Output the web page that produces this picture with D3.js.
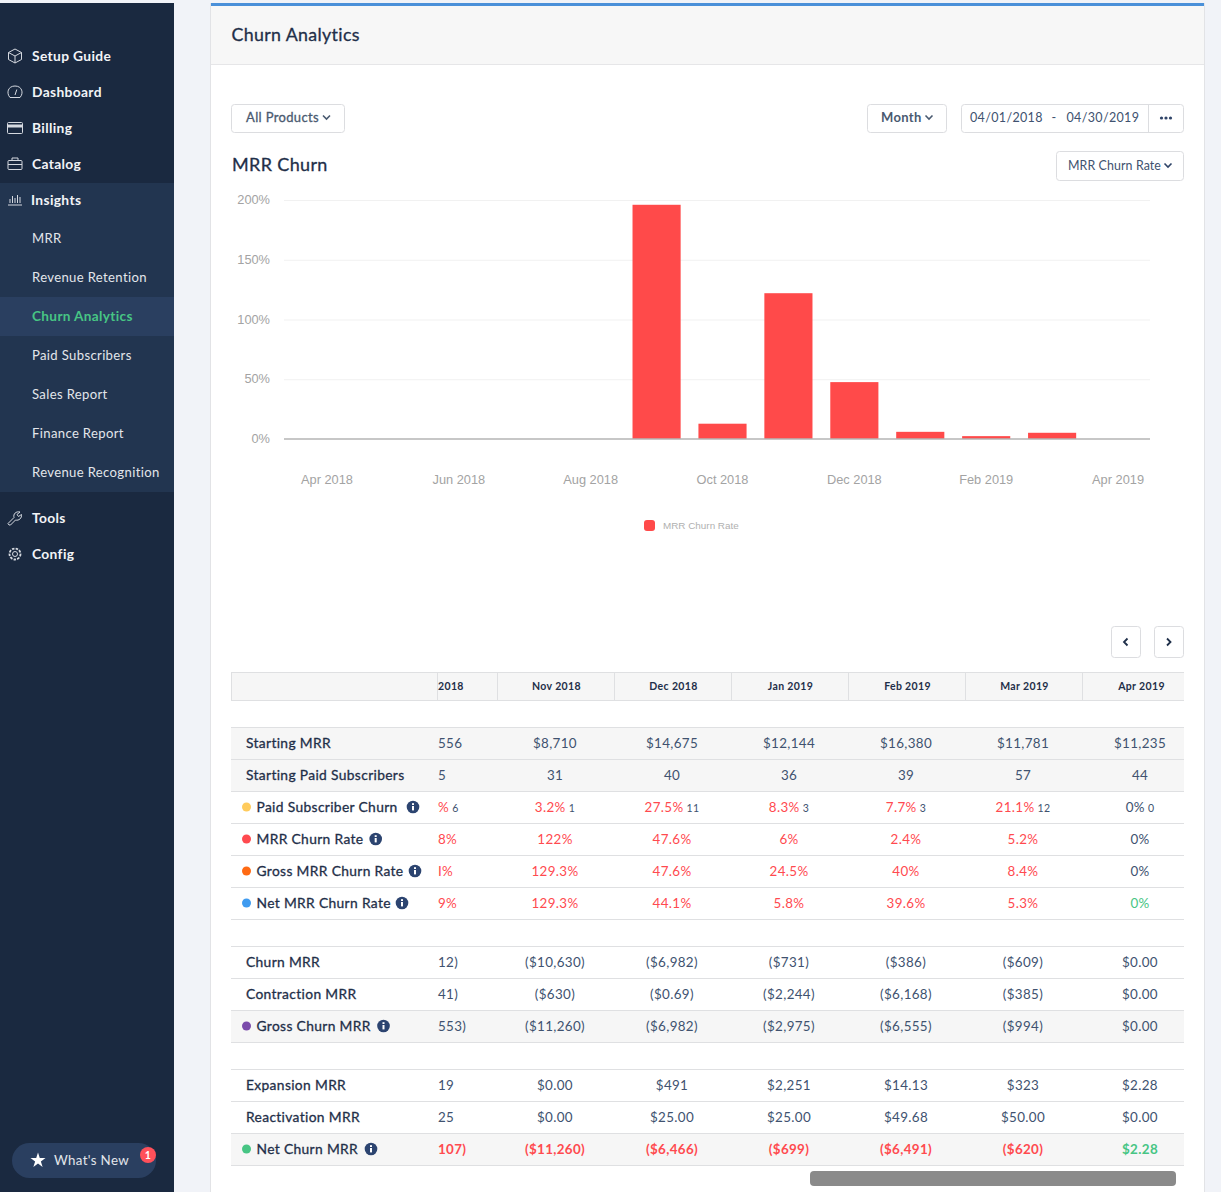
<!DOCTYPE html>
<html>
<head>
<meta charset="utf-8">
<title>Churn Analytics</title>
<script src="https://cdn.jsdelivr.net/npm/d3@7"></script>
<style>
  html, body { margin: 0; padding: 0; background: #f1f3f8; overflow: hidden; }
  svg { display: block; }
  text { font-family: Lato, "Open Sans", sans-serif; letter-spacing: 0.35px; }
  .chart-text text, text.chart-text { font-family: "Liberation Sans", Arial, sans-serif; letter-spacing: 0; }
</style>
</head>
<body>
<div id="page"></div>
<script>
// ------------------------------------------------------------
// 1. Data
// ------------------------------------------------------------
const months = ["Apr 2018", "May 2018", "Jun 2018", "Jul 2018", "Aug 2018", "Sep 2018", "Oct 2018",
  "Nov 2018", "Dec 2018", "Jan 2019", "Feb 2019", "Mar 2019", "Apr 2019"];
const mrrChurnRate = [0, 0, 0, 0, 0, 196, 12.8, 122, 47.6, 6, 2.4, 5.2, 0];
const xTickLabels = ["Apr 2018", "Jun 2018", "Aug 2018", "Oct 2018", "Dec 2018", "Feb 2019", "Apr 2019"];
const yTickValues = [0, 50, 100, 150, 200];

const sidebarTop = ["Setup Guide", "Dashboard", "Billing", "Catalog", "Insights"];
const sidebarSub = ["MRR", "Revenue Retention", "Churn Analytics", "Paid Subscribers", "Sales Report", "Finance Report", "Revenue Recognition"];
const sidebarBottom = ["Tools", "Config"];

const tableMonths = ["Nov 2018", "Dec 2018", "Jan 2019", "Feb 2019", "Mar 2019", "Apr 2019"];

const startingMrr = ["556", "$8,710", "$14,675", "$12,144", "$16,380", "$11,781", "$11,235"];
const startingSubs = ["5", "31", "40", "36", "39", "57", "44"];
const paidChurn = ["%", "3.2%", "27.5%", "8.3%", "7.7%", "21.1%", "0%"];
const paidChurnCount = ["6", "1", "11", "3", "3", "12", "0"];
const mrrRate = ["8%", "122%", "47.6%", "6%", "2.4%", "5.2%", "0%"];
const grossRate = ["I%", "129.3%", "47.6%", "24.5%", "40%", "8.4%", "0%"];
const netRate = ["9%", "129.3%", "44.1%", "5.8%", "39.6%", "5.3%", "0%"];
const churnMrr = ["12)", "($10,630)", "($6,982)", "($731)", "($386)", "($609)", "$0.00"];
const contractionMrr = ["41)", "($630)", "($0.69)", "($2,244)", "($6,168)", "($385)", "$0.00"];
const grossChurnMrr = ["553)", "($11,260)", "($6,982)", "($2,975)", "($6,555)", "($994)", "$0.00"];
const expansionMrr = ["19", "$0.00", "$491", "$2,251", "$14.13", "$323", "$2.28"];
const reactivationMrr = ["25", "$0.00", "$25.00", "$25.00", "$49.68", "$50.00", "$0.00"];
const netChurnMrr = ["107)", "($11,260)", "($6,466)", "($699)", "($6,491)", "($620)", "$2.28"];

// ------------------------------------------------------------
// 2. Page setup
// ------------------------------------------------------------
const W = 1221, H = 1192;
const navy = "#1f2f49", slate = "#40526f", red = "#ff4a4f", green = "#47c584", line = "#dfe0e2", shade = "#f6f6f6";

const svg = d3.select("#page").append("svg").attr("width", W).attr("height", H);

function rect(x, y, w, h, fill, rx) {
  return svg.append("rect").attr("x", x).attr("y", y).attr("width", w).attr("height", h)
    .attr("fill", fill).attr("rx", rx || 0);
}
function label(x, y, str, size, color, weight, anchor) {
  const t = svg.append("text").attr("x", x).attr("y", y).text(str)
    .attr("font-size", size).attr("fill", color)
    .attr("font-weight", weight === 500 ? 400 : (weight || 400)).attr("text-anchor", anchor || "start");
  // Lato has no medium here, so thicken the regular cut a little
  if (weight === 500) t.attr("stroke", color).attr("stroke-width", 0.3);
  return t;
}
function hline(x1, x2, y, color) {
  svg.append("line").attr("x1", x1).attr("x2", x2).attr("y1", y).attr("y2", y)
    .attr("stroke", color || line).attr("stroke-width", 1);
}
function chevron(cx, cy, color) {
  svg.append("path").attr("d", `M${cx - 3.5},${cy - 1.5}L${cx},${cy + 2}L${cx + 3.5},${cy - 1.5}`)
    .attr("fill", "none").attr("stroke", color).attr("stroke-width", 1.6);
}
function button(x, y, w, h) {
  svg.append("rect").attr("x", x + 0.5).attr("y", y + 0.5).attr("width", w).attr("height", h).attr("rx", 3)
    .attr("fill", "#fff").attr("stroke", "#dcdde0");
}

rect(0, 0, W, H, "#f1f3f8");

// ------------------------------------------------------------
// 3. Sidebar
// ------------------------------------------------------------
rect(0, 3, 174, H, "#1a2940");
rect(0, 183, 174, 309, "#223550");
rect(0, 297, 174, 39, "#2a3f60");

const sideIconColor = "#d5d9e0";
function sideIcon(name, cx, cy) {
  const g = svg.append("g").attr("transform", `translate(${cx},${cy})`)
    .attr("fill", "none").attr("stroke", sideIconColor).attr("stroke-width", 1);
  if (name === "Setup Guide") {
    g.append("path").attr("d", "M0,-7L6.5,-3.5V3.5L0,7L-6.5,3.5V-3.5ZM-6.5,-3.5L0,0L6.5,-3.5M0,0V7");
  } else if (name === "Dashboard") {
    g.append("path").attr("d", "M-5,5.5H5C9,1 7,-6 0,-6C-7,-6 -9,1 -5,5.5ZM0,3L1.8,-2.5");
  } else if (name === "Billing") {
    g.append("rect").attr("x", -7.5).attr("y", -5.5).attr("width", 15).attr("height", 11).attr("rx", 1);
    g.append("rect").attr("x", -7.5).attr("y", -3).attr("width", 15).attr("height", 2).attr("fill", sideIconColor);
  } else if (name === "Catalog") {
    g.append("rect").attr("x", -7).attr("y", -3.5).attr("width", 14).attr("height", 9).attr("rx", 1);
    g.append("path").attr("d", "M-3,-3.5V-6H3V-3.5M-7,0.5H7");
  } else if (name === "Insights") {
    g.append("path").attr("d", "M-7,5H7M-5,3V-1M-2.5,3V-4M0,3V-2M2.5,3V-5M5,3V-3");
  } else if (name === "Tools") {
    g.append("path").attr("d", "M-6,7L-7,5.5L-1,-0.5C-2,-4 1,-7 5,-6L2,-3.5L3.5,-1.5L6.5,-3.5C7,0 4,3 0.5,2L-4.5,7Z");
  } else if (name === "Config") {
    g.append("circle").attr("r", 2.5);
    g.append("circle").attr("r", 5.5).attr("stroke-width", 1.8).attr("stroke-dasharray", "2.5 1.2");
  }
}

const sideTopY = [56, 92, 128, 164, 200];
sidebarTop.forEach((d, i) => {
  sideIcon(d, 15, sideTopY[i]);
  label(d === "Insights" ? 31 : 32, sideTopY[i] + 5, d, 13.8, "#f2f4f7", 700);
});
sidebarSub.forEach((d, i) => {
  const active = d === "Churn Analytics";
  label(32, 243 + i * 39, d, active ? 13.6 : 13.1, active ? green : "#e3e6eb", active ? 700 : 400);
});
sidebarBottom.forEach((d, i) => {
  sideIcon(d, 15, 518 + i * 36);
  label(32, 523 + i * 36, d, 13.8, "#f2f4f7", 700);
});

rect(12, 1143, 144, 35, "#2a3f60", 17.5);
svg.append("path").attr("d", d3.symbol(d3.symbolStar, 70)()).attr("transform", "translate(38,1160.5)").attr("fill", "#fff");
label(54, 1165, "What's New", 13.3, "#e3e6eb");
svg.append("circle").attr("cx", 148).attr("cy", 1155).attr("r", 8).attr("fill", "#ff505a");
label(148, 1159, "1", 10.5, "#fff", 700, "middle");

// ------------------------------------------------------------
// 4. Panel and controls
// ------------------------------------------------------------
svg.append("rect").attr("x", 210.5).attr("y", 3.5).attr("width", 994).attr("height", H).attr("fill", "#fff").attr("stroke", "#e2e3e6");
rect(211, 5, 993, 59, "#f7f7f7");
rect(211, 3, 993, 3, "#4a90d9");
hline(211, 1204, 64.5, "#e6e6e8");
label(231.5, 41, "Churn Analytics", 17.8, navy, 500);

button(231, 104, 113, 28);
label(246, 122, "All Products", 13, "#4a5a70", 500);
chevron(326.5, 117, "#4a5a70");

button(867, 104, 79, 28);
label(881, 122, "Month", 13, "#4a5a70", 700);
chevron(929, 117, "#4a5a70");

button(961, 104, 222, 28);
svg.append("line").attr("x1", 1148.5).attr("x2", 1148.5).attr("y1", 104).attr("y2", 132).attr("stroke", "#dcdde0");
label(970, 122, "04/01/2018", 12.5, slate);
label(1054, 122, "-", 12.6, slate, 400, "middle");
label(1066.5, 122, "04/30/2019", 12.5, slate);
[-4.5, 0, 4.5].forEach(dx => svg.append("circle").attr("cx", 1166 + dx).attr("cy", 118).attr("r", 1.6).attr("fill", "#2f4468"));

label(232, 171, "MRR Churn", 18, navy, 500);
button(1056, 151, 127, 29);
label(1068, 170, "MRR Churn Rate", 12.4, slate).style("letter-spacing", "0.1px");
chevron(1168, 165, "#2f4468");

// ------------------------------------------------------------
// 5. Bar chart
// ------------------------------------------------------------
const x = d3.scaleBand().domain(months).range([294, 1151]).paddingInner(0.27).paddingOuter(0.135);
const y = d3.scaleLinear().domain([0, 200]).range([439, 200]);

svg.append("g").attr("class", "grid").selectAll("line")
  .data(yTickValues.filter(d => d > 0))
  .join("line")
  .attr("x1", 284).attr("x2", 1150)
  .attr("y1", d => y(d) + 0.5).attr("y2", d => y(d) + 0.5)
  .attr("stroke", "#f1f1f1");

svg.append("g").attr("class", "bars").selectAll("rect")
  .data(months.map((m, i) => ({ month: m, value: mrrChurnRate[i] })).filter(d => d.value > 0))
  .join("rect")
  .attr("x", d => x(d.month))
  .attr("width", x.bandwidth())
  .attr("y", d => y(d.value))
  .attr("height", d => y(0) - y(d.value))
  .attr("fill", "#ff4a4a");

svg.append("line").attr("x1", 284).attr("x2", 1150).attr("y1", y(0)).attr("y2", y(0))
  .attr("stroke", "#b4b4b4").attr("stroke-width", 1.4);

const yAxis = d3.axisLeft(y).tickValues(yTickValues).tickFormat(d => d + "%").tickSize(0).tickPadding(14);
const yG = svg.append("g").attr("class", "chart-text").attr("transform", "translate(284,-0.6)").call(yAxis);
yG.select(".domain").remove();
yG.selectAll("text").attr("font-size", 12.8).attr("fill", "#a3a3a3")
  .style("font-family", "'Liberation Sans', Arial, sans-serif");

const xAxis = d3.axisBottom(x).tickValues(xTickLabels).tickSize(0).tickPadding(36);
const xG = svg.append("g").attr("class", "chart-text").attr("transform", `translate(0,${y(0)})`).call(xAxis);
xG.select(".domain").remove();
xG.selectAll("text").attr("font-size", 12.8).attr("fill", "#a3a3a3")
  .style("font-family", "'Liberation Sans', Arial, sans-serif");

// legend
rect(644, 520, 11, 11, "#ff4a4a", 3);
label(663, 529, "MRR Churn Rate", 9.9, "#b0b0b0").attr("class", "chart-text");

// ------------------------------------------------------------
// 6. Table
// ------------------------------------------------------------
button(1111, 626, 29, 31);
button(1154, 626, 29, 31);
svg.append("path").attr("d", "M1127.5,638.5L1124,642L1127.5,645.5").attr("fill", "none").attr("stroke", navy).attr("stroke-width", 1.8);
svg.append("path").attr("d", "M1167,638.5L1170.5,642L1167,645.5").attr("fill", "none").attr("stroke", navy).attr("stroke-width", 1.8);

const colCenters = [555, 672, 789, 906, 1023, 1140];

// header strip
rect(231, 672, 953, 29, shade);
hline(231, 1184, 672.5);
hline(231, 1184, 700.5);
[231.5, 437.5, 497.5, 614.5, 731.5, 848.5, 965.5, 1082.5].forEach(px => {
  svg.append("line").attr("x1", px).attr("x2", px).attr("y1", 672).attr("y2", 701).attr("stroke", line);
});
label(438, 690, "2018", 10.5, navy, 700);
tableMonths.forEach((m, i) => label(colCenters[i] + 1.5, 690, m, 10.5, navy, 700, "middle"));

const infoColor = "#2c4470";
function infoIcon(cx, cy) {
  svg.append("circle").attr("cx", cx).attr("cy", cy).attr("r", 6.3).attr("fill", infoColor);
  rect(cx - 1, cy - 1, 2, 4.4, "#fff");
  rect(cx - 1, cy - 3.8, 2, 1.8, "#fff");
}

function tableRow(yTop, name, values, opts) {
  opts = opts || {};
  const h = 32;
  if (opts.shaded) rect(231, yTop + 1, 953, h - 1, shade);
  hline(231, 1184, yTop + h + 0.5);
  const ty = yTop + 21;
  const nameX = opts.dot ? 256.5 : 246;
  if (opts.dot) svg.append("circle").attr("cx", 246.5).attr("cy", yTop + 16).attr("r", 4.5).attr("fill", opts.dot);
  label(nameX, ty, name, 13.8, navy, 500);
  if (opts.info) infoIcon(opts.info, yTop + 16);
  values.forEach((v, i) => {
    const color = opts.color ? opts.color(v, i) : slate;
    const weight = opts.weight || 400;
    const t = i === 0 ? label(438, ty, v, 13.4, color, weight) : label(colCenters[i - 1], ty, v, 13.4, color, weight, "middle");
    if (opts.counts) {
      t.append("tspan").text(" ").attr("font-size", 10.5);
      t.append("tspan").text(opts.counts[i]).attr("font-size", 10.5).attr("fill", slate);
    }
  });
}

const rateColor = v => (v === "0%" ? slate : red);

hline(231, 1184, 727.5);
tableRow(727, "Starting MRR", startingMrr, { shaded: true });
tableRow(759, "Starting Paid Subscribers", startingSubs, { shaded: true });
tableRow(791, "Paid Subscriber Churn", paidChurn, { dot: "#ffcb5c", info: 413, color: rateColor, counts: paidChurnCount });
tableRow(823, "MRR Churn Rate", mrrRate, { dot: red, info: 375.7, color: rateColor });
tableRow(855, "Gross MRR Churn Rate", grossRate, { dot: "#ff6a13", info: 415, color: rateColor });
tableRow(887, "Net MRR Churn Rate", netRate, { dot: "#3f9bf0", info: 402, color: (v, i) => (i === netRate.length - 1 ? green : red) });

hline(231, 1184, 946.5);
tableRow(946, "Churn MRR", churnMrr);
tableRow(978, "Contraction MRR", contractionMrr);
tableRow(1010, "Gross Churn MRR", grossChurnMrr, { shaded: true, dot: "#7b4bab", info: 383.5 });

hline(231, 1184, 1069.5);
tableRow(1069, "Expansion MRR", expansionMrr);
tableRow(1101, "Reactivation MRR", reactivationMrr);
tableRow(1133, "Net Churn MRR", netChurnMrr, {
  shaded: true, dot: green, info: 371, weight: 700,
  color: (v, i) => (i === netChurnMrr.length - 1 ? green : red)
});

// scrollbar
rect(810, 1171, 366, 15, "#8a8a8a", 4);
</script>
</body>
</html>
